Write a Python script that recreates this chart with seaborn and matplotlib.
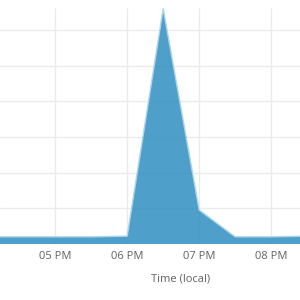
import matplotlib
matplotlib.use("Agg")
import matplotlib.pyplot as plt
import matplotlib.dates as mdates
import seaborn as sns
import pandas as pd

times = ["16:00", "16:30", "17:00", "17:30", "18:00", "18:30", "19:00", "19:30", "20:00", "20:30"]
values = [0.2, 0.2, 0.2, 0.2, 0.22, 6.6, 0.95, 0.2, 0.2, 0.22]
tick_times = ["17:00", "18:00", "19:00", "20:00"]
x_label = "Time (local)"

df = pd.DataFrame({"time": pd.to_datetime(["2024-01-01 " + t for t in times]), "value": values})

sns.set_theme(style="white")
plt.rcParams["font.family"] = ["Open Sans", "DejaVu Sans"]

fig = plt.figure(figsize=(3, 3), dpi=100)
ax = fig.add_axes([0.0, 0.1867, 1.0, 0.7866])

ax.fill_between(df["time"], 0, df["value"], color="#308ec2", alpha=0.85, linewidth=0, zorder=2)
sns.lineplot(data=df, x="time", y="value", ax=ax, color="#acd4ea", linewidth=1.0, zorder=3)

xmin = pd.Timestamp("2024-01-01 16:14")
xmax = pd.Timestamp("2024-01-01 20:24")
ax.set_xlim(xmin, xmax)
ax.set_ylim(0, 6.62)
ax.set_yticks([0, 1, 2, 3, 4, 5, 6])
ax.set_yticklabels([])
ax.set_xticks(pd.to_datetime(["2024-01-01 " + t for t in tick_times]))
ax.xaxis.set_major_formatter(mdates.DateFormatter("%I %p"))
ax.tick_params(axis="both", length=0)
ax.tick_params(axis="x", pad=5, labelsize=8, labelcolor="#606060")
ax.grid(True, color="#ebebeb", linewidth=1.0, zorder=0)
ax.set_axisbelow(True)
for s in ax.spines.values():
    s.set_visible(False)
ax.set_ylabel("")
ax.set_xlabel(x_label, fontsize=8, color="#606060")
ax.xaxis.set_label_coords(181 / 300, -0.127)

fig.savefig("out.png", dpi=100)
